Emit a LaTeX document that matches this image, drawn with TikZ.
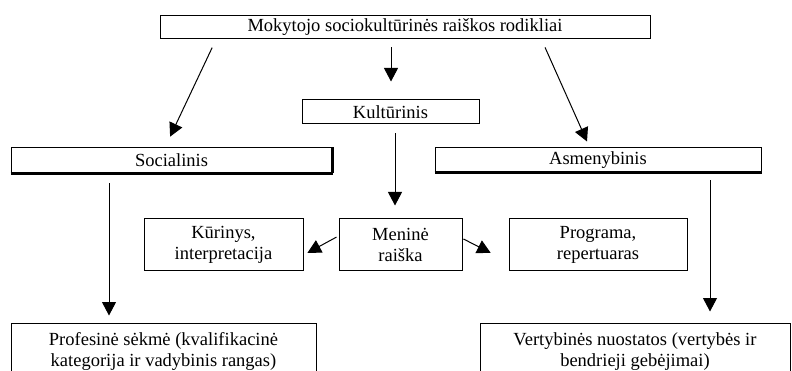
\documentclass[tikz,border=0pt]{standalone}
\usepackage{fontspec}
\setmainfont{Liberation Serif}
\usetikzlibrary{arrows.meta}

\newcommand\boxtextstyle{\fontsize{18.5}{21}\selectfont}
\newcommand\boxlinewidth{1pt}
\newcommand\shadowline[2]{
  \draw [line width=2.2pt] (#1.south west) -- (#1.south east) ;
  \ifx#2r\draw [line width=2.2pt] (#1.south east) -- (#1.north east) ;\fi
}
\tikzset{
  rodbox/.style={draw, line width=\boxlinewidth, inner sep=0pt, align=center,
    font=\boxtextstyle},
  rodarrow/.style={line width=\boxlinewidth, -{Triangle[length=13.5pt, width=14pt]}}
}

\begin{document}
\begin{tikzpicture}[x=1pt, y=-1pt]
    \useasboundingbox (0,0) rectangle (792,371) ;
    \node (top) at (405,27.5) [rodbox, minimum width=490pt, minimum height=23pt] {Mokytojo sociokultūrinės raiškos rodikliai} ;
    \node (kult) at (390.5,112) [rodbox, minimum width=177pt, minimum height=24pt] {Kultūrinis} ;
    \node (soc) at (171.5,160.5) [rodbox, minimum width=321pt, minimum height=25pt] {Socialinis} ;
    \node (asm) at (598,160) [rodbox, minimum width=326pt, minimum height=24pt] {Asmenybinis} ;
    \node (kur) at (223.5,245) [rodbox, minimum width=159pt, minimum height=52pt] {Kūrinys,\\interpretacija} ;
    \node (men) at (400.5,245) [rodbox, minimum width=123pt, minimum height=52pt] {Meninė\\raiška} ;
    \node (prog) at (598,245) [rodbox, minimum width=178pt, minimum height=52pt] {Programa,\\repertuaras} ;
    \node (prof) at (163.5,351.5) [rodbox, minimum width=305pt, minimum height=57pt] {Profesinė sėkmė (kvalifikacinė\\kategorija ir vadybinis rangas)} ;
    \node (vert) at (635,351.5) [rodbox, minimum width=310pt, minimum height=57pt] {Vertybinės nuostatos (vertybės ir\\bendrieji gebėjimai)} ;
    \shadowline{soc}{r}
    \shadowline{asm}{n}
    \draw [rodarrow, shorten <=9pt, shorten >=12pt] ([xshift=-189pt]top.south) -- ([xshift=-6.5pt]soc.north) ;
    \draw [rodarrow, shorten <=8pt, shorten >=18pt] ([xshift=-14pt]top.south) -- ([xshift=0.5pt]kult.north) ;
    \draw [rodarrow, shorten <=8.7pt, shorten >=6.6pt] ([xshift=136.5pt]top.south) -- ([xshift=-8.3pt]asm.north) ;
    \draw [rodarrow, shorten <=9pt, shorten >=13pt] ([xshift=4.5pt]kult.south) -- ([xshift=-5.5pt]men.north) ;
    \draw [rodarrow, shorten <=2.3pt, shorten >=4.5pt] ([yshift=9pt]men.west) -- ([yshift=-10pt]kur.east) ;
    \draw [rodarrow, shorten <=1pt, shorten >=20pt] ([yshift=6.5pt]men.east) -- ([yshift=-17pt]prog.west) ;
    \draw [rodarrow, shorten <=10pt, shorten >=7pt] ([xshift=-62.5pt]soc.south) -- ([xshift=-54.5pt]prof.north) ;
    \draw [rodarrow, shorten <=8pt, shorten >=11pt] ([xshift=112pt]asm.south) -- ([xshift=75pt]vert.north) ;
  \end{tikzpicture}
\end{document}
